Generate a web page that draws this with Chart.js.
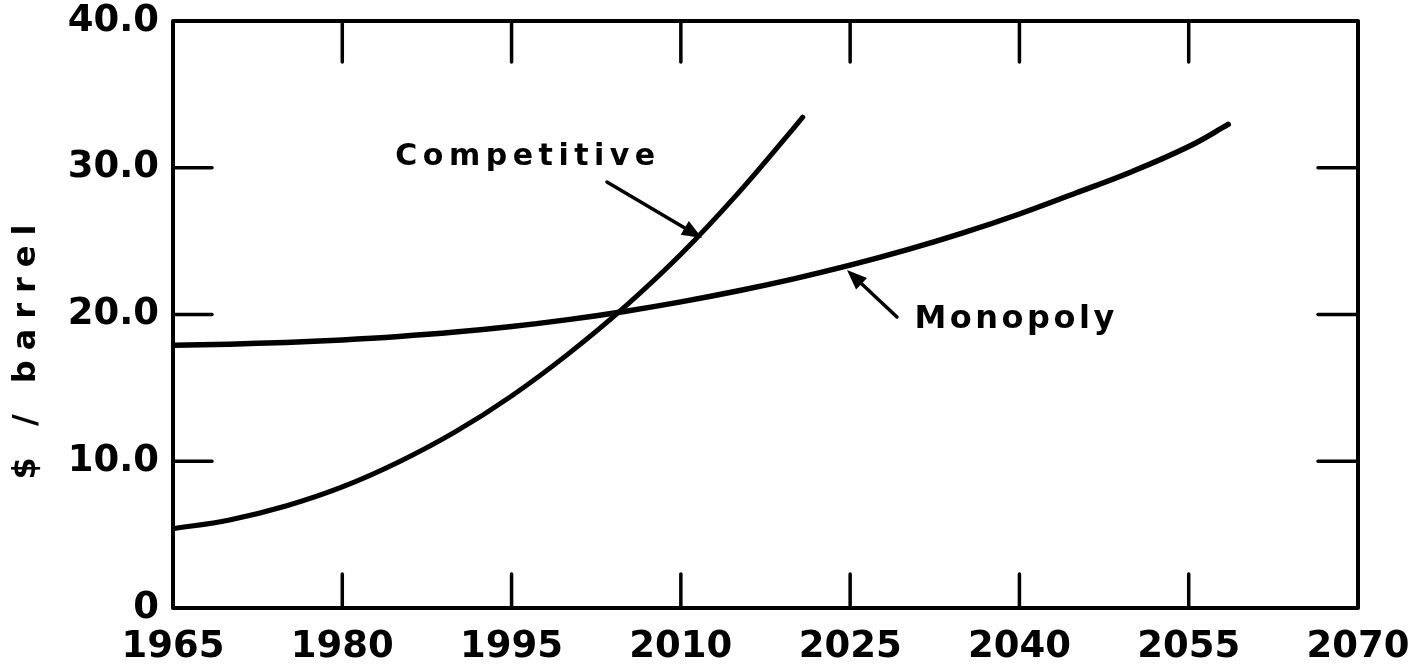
<!DOCTYPE html>
<html>
<head>
<meta charset="utf-8">
<title>Competitive vs Monopoly oil price</title>
<script src="https://cdn.jsdelivr.net/npm/chart.js@4.4.1/dist/chart.umd.min.js"></script>
<style>
  html, body { margin: 0; padding: 0; background: #fff; }
  canvas { display: block; }
</style>
</head>
<body>
<canvas id="priceChart" width="1409" height="664"></canvas>
<script>
// values ($ / barrel)
const compYears = [1965, 1970, 1975, 1980, 1985, 1990, 1995, 2000, 2005, 2010, 2015, 2020, 2020.8];
const compValues = [5.4, 6.0, 6.95, 8.25, 9.95, 12.0, 14.45, 17.3, 20.5, 24.1, 28.2, 32.7, 33.45];

const monoYears = [1965, 1970, 1975, 1980, 1985, 1990, 1995, 2000, 2005, 2010, 2015, 2020, 2025, 2030, 2035, 2040, 2045, 2050, 2055, 2058.5];
const monoValues = [17.9, 17.98, 18.1, 18.27, 18.5, 18.8, 19.18, 19.65, 20.21, 20.86, 21.6, 22.43, 23.36, 24.4, 25.56, 26.85, 28.28, 29.75, 31.45, 32.95];

// tick labels
const xTicks = [1965, 1980, 1995, 2010, 2025, 2040, 2055, 2070];
const yTicks = [0, 10, 20, 30, 40];
const yTickLabels = ["0", "10.0", "20.0", "30.0", "40.0"];

const yTitle = "$ / barrel";

// labels + arrows, in data units (year, $)
const notes = [
  { text: "Competitive", x: 1984.7, y: 30.2, size: 30, spacing: 5.5, from: [2003.45, 29.03], to: [2011.87, 25.21] },
  { text: "Monopoly", x: 2030.7, y: 19.08, size: 32, spacing: 3.5, from: [2029.15, 19.83], to: [2024.72, 23.03] }
];

const INK = "#000";
const FONT = "'DejaVu Sans', sans-serif";

function toPoints(xs, ys) {
  return xs.map((x, i) => ({ x: x, y: ys[i] }));
}

/* ---------- frame with inward ticks ---------- */
const framePlugin = {
  id: "frame",
  afterDatasetsDraw(chart) {
    const { ctx, chartArea: a, scales } = chart;
    ctx.save();
    ctx.strokeStyle = INK;
    ctx.lineWidth = 4;
    ctx.lineCap = "round";
    ctx.lineJoin = "round";
    ctx.strokeRect(a.left, a.top, a.right - a.left, a.bottom - a.top);

    ctx.lineWidth = 3.5;
    ctx.beginPath();
    xTicks.slice(1, -1).forEach(v => {
      const px = scales.x.getPixelForValue(v);
      ctx.moveTo(px, a.bottom); ctx.lineTo(px, a.bottom - 34);
      ctx.moveTo(px, a.top); ctx.lineTo(px, a.top + 41);
    });
    yTicks.slice(1, -1).forEach(v => {
      const py = scales.y.getPixelForValue(v);
      ctx.moveTo(a.left, py); ctx.lineTo(a.left + 39, py);
      ctx.moveTo(a.right, py); ctx.lineTo(a.right - 40, py);
    });
    ctx.stroke();
    ctx.restore();
  }
};

/* ---------- annotations + y title ---------- */
const notesPlugin = {
  id: "notes",
  afterDraw(chart) {
    const { ctx, scales } = chart;
    ctx.save();
    ctx.fillStyle = INK;
    ctx.strokeStyle = INK;

    notes.forEach(n => {
      ctx.font = `bold ${n.size}px ${FONT}`;
      ctx.letterSpacing = n.spacing + "px";
      ctx.textAlign = "left";
      ctx.textBaseline = "alphabetic";
      ctx.fillText(n.text, scales.x.getPixelForValue(n.x), scales.y.getPixelForValue(n.y));

      // arrow
      const x1 = scales.x.getPixelForValue(n.from[0]), y1 = scales.y.getPixelForValue(n.from[1]);
      const x2 = scales.x.getPixelForValue(n.to[0]), y2 = scales.y.getPixelForValue(n.to[1]);
      const ang = Math.atan2(y2 - y1, x2 - x1);
      const headLen = 20, headW = 8;
      const c = Math.cos(ang), s = Math.sin(ang);
      ctx.lineWidth = 3.5;
      ctx.lineCap = "round";
      ctx.beginPath();
      ctx.moveTo(x1, y1);
      ctx.lineTo(x2 - c * headLen * 0.8, y2 - s * headLen * 0.8);
      ctx.stroke();
      ctx.beginPath();
      ctx.moveTo(x2, y2);
      ctx.lineTo(x2 - c * headLen - s * headW, y2 - s * headLen + c * headW);
      ctx.lineTo(x2 - c * headLen + s * headW, y2 - s * headLen - c * headW);
      ctx.closePath();
      ctx.fill();
    });

    // rotated y title
    ctx.font = `bold 32px ${FONT}`;
    ctx.letterSpacing = "10px";
    ctx.textAlign = "center";
    ctx.textBaseline = "middle";
    ctx.translate(27, 352);
    ctx.rotate(-Math.PI / 2);
    ctx.fillText(yTitle, 5, 0);
    ctx.restore();
  }
};

const tickFont = { family: FONT, size: 37, weight: "bold" };

new Chart(document.getElementById("priceChart"), {
  type: "line",
  data: {
    datasets: [
      {
        label: "Competitive",
        data: toPoints(compYears, compValues),
        borderColor: INK,
        borderWidth: 5,
        pointRadius: 0,
        tension: 0.4,
        borderCapStyle: "round"
      },
      {
        label: "Monopoly",
        data: toPoints(monoYears, monoValues),
        borderColor: INK,
        borderWidth: 5.5,
        pointRadius: 0,
        tension: 0.4,
        borderCapStyle: "round"
      }
    ]
  },
  options: {
    responsive: false,
    animation: false,
    layout: { padding: { top: 21, right: 51, left: 0, bottom: 0 } },
    plugins: { legend: { display: false }, tooltip: { enabled: false } },
    scales: {
      x: {
        type: "linear",
        min: 1965,
        max: 2070,
        afterBuildTicks(s) { s.ticks = xTicks.map(v => ({ value: v })); },
        afterFit(s) { s.height = 56; s.paddingLeft = 0; s.paddingRight = 0; },
        ticks: {
          color: INK,
          font: tickFont,
          padding: 17,
          maxRotation: 0,
          autoSkip: false,
          callback: v => String(v)
        },
        grid: { display: false, drawTicks: false, tickLength: 0 },
        border: { display: false }
      },
      y: {
        min: 0,
        max: 40,
        afterBuildTicks(s) { s.ticks = yTicks.map(v => ({ value: v })); },
        afterFit(s) { s.width = 173; s.paddingTop = 0; s.paddingBottom = 0; },
        ticks: {
          color: INK,
          font: tickFont,
          padding: 14,
          callback: v => yTickLabels[yTicks.indexOf(v)]
        },
        grid: { display: false, drawTicks: false, tickLength: 0 },
        border: { display: false }
      }
    }
  },
  plugins: [framePlugin, notesPlugin]
});
</script>
</body>
</html>
